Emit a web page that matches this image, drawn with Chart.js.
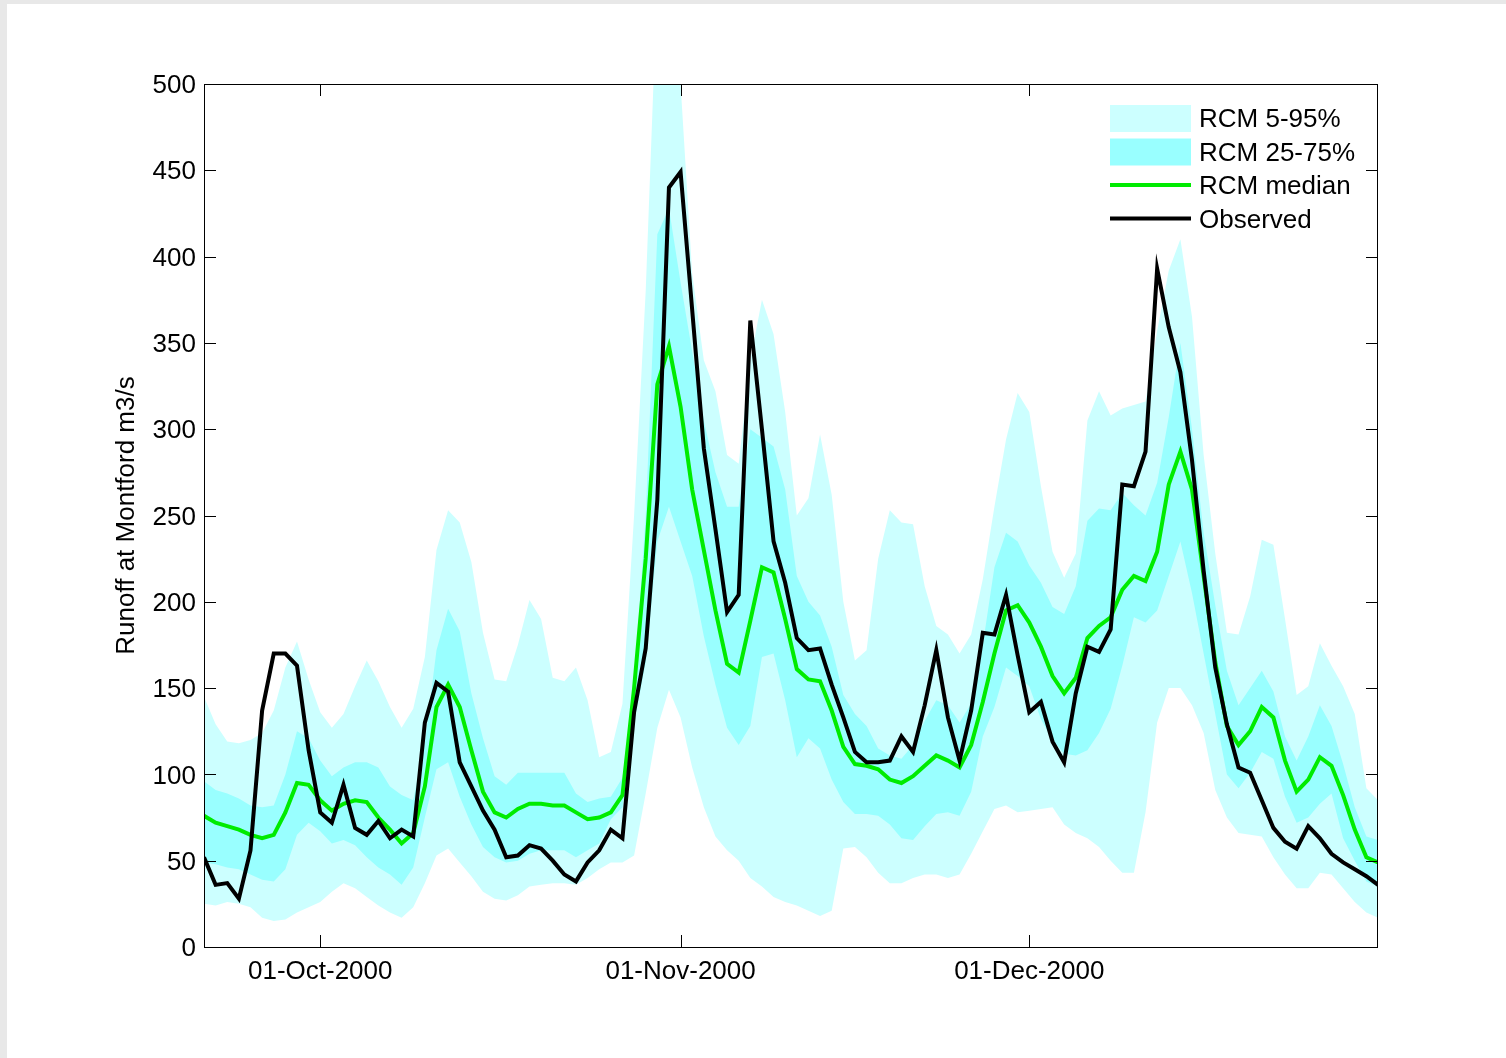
<!DOCTYPE html>
<html>
<head>
<meta charset="utf-8">
<script src="https://cdn.jsdelivr.net/npm/chart.js@4.4.0/dist/chart.umd.min.js"></script>
<style>
  html, body { margin: 0; padding: 0; background: #e8e8e8; }
  #fig { position: absolute; left: 7px; top: 4px; width: 1499px; height: 1054px; background: #fff; }
  canvas { display: block; }
</style>
</head>
<body>
<div id="fig"><canvas id="chart" width="1499" height="1054"></canvas></div>
<script>
// daily values, 21-Sep-2000 .. 31-Dec-2000 (day 0 = 21-Sep)
const observed = [52,36,37,28,56,137,170,170,163,114,78,72,94,69,65,73,63,68,64,130,153,148,107,93,79,68,52,53,59,57,50,42,38,49,56,68,63,136,173,259,440,449,369,289,242,194,204,363,300,235,211,179,172,173,152,133,113,107,107,108,122,113,140,172,133,108,137,182,181,204,169,136,142,119,107,147,174,171,184,268,267,287,393,359,333,282,218,162,129,104,101,85,69,61,57,70,63,54,49,45,41,36];
const rcmMedian = [76,72,70,68,65,63,65,78,95,94,85,79,83,85,84,75,68,60,66,93,139,152,139,114,90,78,75,80,83,83,82,82,78,74,75,78,88,150,225,326,348,313,265,230,195,164,159,189,220,217,190,161,155,154,137,116,106,105,103,97,95,99,105,111,108,104,117,142,170,195,198,188,174,157,147,156,179,186,191,207,215,212,229,268,287,265,215,165,128,117,125,139,133,108,90,97,110,105,88,68,52,49];
const rcmP95 = [145,129,119,118,120,124,137,162,177,155,136,127,135,151,166,154,139,127,138,168,230,253,246,223,182,155,154,175,201,190,156,154,162,143,110,113,141,250,380,560,560,500,390,340,322,285,280,340,375,355,310,250,260,297,262,200,166,172,225,253,246,245,209,186,181,170,181,213,255,294,321,310,267,229,214,228,305,322,308,312,314,316,357,392,410,365,285,228,182,181,203,236,233,190,146,151,176,163,151,135,92,85];
const rcmP75 = [96,91,89,86,82,81,82,100,125,121,108,99,104,107,107,104,93,88,85,118,172,196,183,147,121,99,94,101,101,101,101,101,89,84,86,87,98,150,250,413,428,385,345,305,275,255,255,300,295,290,265,215,200,192,174,146,135,128,115,111,109,117,131,143,140,130,141,175,220,240,235,221,211,197,193,209,247,254,253,263,256,250,269,307,350,300,240,198,160,140,150,160,148,122,108,122,140,128,106,81,64,62];
const rcmP25 = [49,48,46,45,42,39,38,45,65,72,67,60,62,59,52,46,42,36,46,75,103,107,87,71,58,52,49,50,54,56,56,56,52,56,60,74,81,130,165,235,255,235,215,180,152,127,117,128,168,170,143,110,121,115,97,84,77,77,76,71,63,62,70,77,78,76,90,122,139,162,157,151,132,120,112,111,114,124,138,163,191,188,195,215,235,205,170,135,100,92,101,113,109,87,72,75,83,89,63,50,38,35];
const rcmP5 = [25,24,26,25,23,17,15,16,20,23,26,32,37,34,29,24,20,17,23,37,53,57,49,41,32,28,27,30,35,36,37,37,36,40,45,49,49,53,89,127,149,133,104,81,64,56,50,40,35,29,26,24,21,18,21,57,58,52,43,37,37,40,42,42,40,42,54,67,80,82,78,79,80,81,71,66,63,58,50,43,43,78,130,150,150,140,124,91,75,66,65,64,52,42,34,34,43,42,34,26,20,17];

const tickDays = [10, 41, 71];
const tickLabels = ['01-Oct-2000', '01-Nov-2000', '01-Dec-2000'];
const yTicks = [0, 50, 100, 150, 200, 250, 300, 350, 400, 450, 500];

const light = 'rgb(204,255,255)';
const medium = 'rgb(153,255,255)';
const green = 'rgb(0,235,0)';
const font = { family: '"Liberation Sans", Arial, sans-serif', size: 26 };

const pts = arr => arr.map((v, i) => ({ x: i, y: v }));

const legendItems = [
  { text: 'RCM 5-95%', kind: 'box', color: light },
  { text: 'RCM 25-75%', kind: 'box', color: medium },
  { text: 'RCM median', kind: 'line', color: green },
  { text: 'Observed', kind: 'line', color: '#000' }
];

const framePlugin = {
  id: 'frame',
  afterDatasetsDraw(chart) {
    const { ctx, chartArea: a, scales } = chart;
    ctx.save();
    ctx.strokeStyle = '#000';
    ctx.lineWidth = 1;
    ctx.strokeRect(a.left + 0.5, a.top + 0.5, a.right - a.left - 1, a.bottom - a.top);
    ctx.beginPath();
    yTicks.forEach(v => {
      const y = Math.round(scales.y.getPixelForValue(v)) + 0.5;
      ctx.moveTo(a.left, y); ctx.lineTo(a.left + 12, y);
      ctx.moveTo(a.right, y); ctx.lineTo(a.right - 12, y);
    });
    tickDays.forEach(d => {
      const x = Math.round(scales.x.getPixelForValue(d)) + 0.5;
      ctx.moveTo(x, a.bottom); ctx.lineTo(x, a.bottom - 12);
      ctx.moveTo(x, a.top); ctx.lineTo(x, a.top + 12);
    });
    ctx.stroke();
    ctx.restore();
  }
};

const legendPlugin = {
  id: 'matlabLegend',
  afterDraw(chart) {
    const { ctx, chartArea: a } = chart;
    const x0 = a.right - 268, x1 = a.right - 187;
    ctx.save();
    ctx.font = font.size + 'px ' + font.family;
    ctx.textBaseline = 'middle';
    legendItems.forEach((it, i) => {
      const cy = a.top + 34 + i * 33.5;
      if (it.kind === 'box') {
        ctx.fillStyle = it.color;
        ctx.fillRect(x0, cy - 13, x1 - x0, 27);
      } else {
        ctx.strokeStyle = it.color;
        ctx.lineWidth = 4;
        ctx.beginPath();
        ctx.moveTo(x0, cy); ctx.lineTo(x1, cy);
        ctx.stroke();
      }
      ctx.fillStyle = '#000';
      ctx.fillText(it.text, x1 + 8, cy + 2);
    });
    ctx.restore();
  }
};

new Chart(document.getElementById('chart'), {
  type: 'line',
  data: {
    datasets: [
      { label: 'Observed', data: pts(observed), borderColor: '#000', borderWidth: 4, pointRadius: 0, fill: false, order: 0 },
      { label: 'RCM median', data: pts(rcmMedian), borderColor: green, borderWidth: 4, pointRadius: 0, fill: false, order: 1 },
      { label: 'RCM 25-75%', data: pts(rcmP75), borderWidth: 0, pointRadius: 0, backgroundColor: medium, fill: 3, order: 2 },
      { label: 'RCM 25%', data: pts(rcmP25), borderWidth: 0, pointRadius: 0, fill: false, order: 3 },
      { label: 'RCM 5-95%', data: pts(rcmP95), borderWidth: 0, pointRadius: 0, backgroundColor: light, fill: 5, order: 4 },
      { label: 'RCM 5%', data: pts(rcmP5), borderWidth: 0, pointRadius: 0, fill: false, order: 5 }
    ]
  },
  options: {
    responsive: false,
    animation: false,
    layout: { padding: { top: 80, right: 128, left: 0, bottom: 0 } },
    plugins: { legend: { display: false }, tooltip: { enabled: false } },
    scales: {
      x: {
        type: 'linear', min: 0, max: 101,
        grid: { display: false, drawTicks: false, tickLength: 0 },
        border: { display: false },
        ticks: {
          font: font, color: '#000', padding: 9, maxRotation: 0,
          callback: (v, i) => tickLabels[i]
        },
        afterBuildTicks: s => { s.ticks = tickDays.map(d => ({ value: d })); },
        afterFit: s => { s.height = 111; }
      },
      y: {
        min: 0, max: 500,
        grid: { display: false, drawTicks: false, tickLength: 0 },
        border: { display: false },
        ticks: { font: font, color: '#000', padding: 8, stepSize: 50, labelOffset: 2 },
        title: {
          display: true, text: 'Runoff at Montford m3/s', color: '#000', font: font,
          padding: { top: 104, bottom: 0 }
        },
        afterFit: s => { s.width = 197; }
      }
    }
  },
  plugins: [framePlugin, legendPlugin]
});
</script>
</body>
</html>
